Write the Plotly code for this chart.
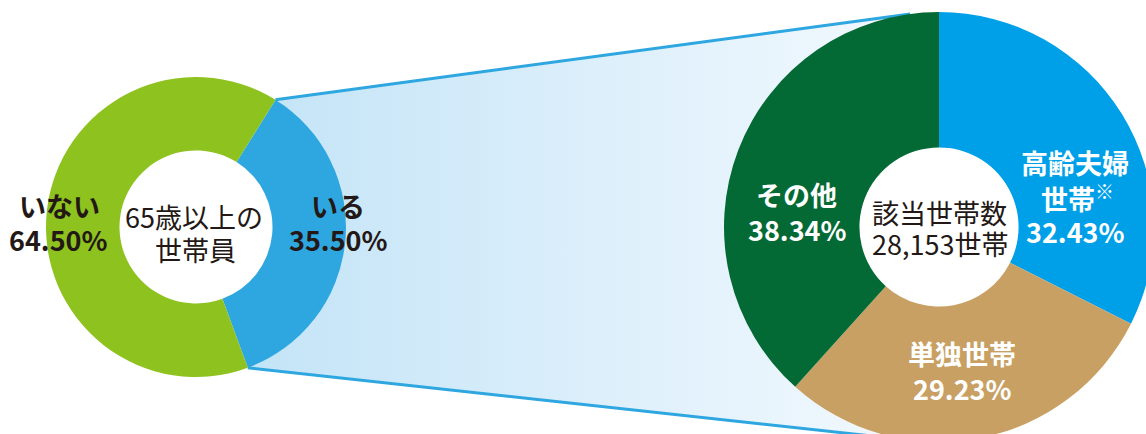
import numpy as np
import plotly.graph_objects as go

VW, VH = 1146, 434          # visible window
W, H = 1156, 444            # figure a bit larger so the right pie can be cropped like the reference
OFF = 0

# ---- data ----
left_labels = ["いる", "いない"]
left_values = [35.50, 64.50]
left_colors = ["#2EA7E0", "#8DC21F"]
left_center_text = ["65歳以上の", "世帯員"]

right_labels = ["高齢夫婦世帯", "単独世帯", "その他"]
right_values = [32.43, 29.23, 38.34]
right_colors = ["#00A0E9", "#C8A063", "#046A35"]
right_center_text = ["該当世帯数", "28,153世帯"]

# ---- geometry (figure pixels, y downward) ----
L_CX, L_CY, L_R = 196 - OFF, 227 - OFF, 150
L_HOLE = 0.51
L_ROT = 32
R_CX, R_CY, R_R = 939 - OFF, 227 - OFF, 215
R_HOLE = 0.37
R_ROT = 0

FONT = "Noto Sans CJK JP"
DARK = "#231815"


def dom(cx, cy, r):
    return dict(x=[max(0, (cx - r) / W), min(1, (cx + r) / W)],
                y=[max(0, (H - cy - r) / H), min(1, (H - cy + r) / H)])


fig = go.Figure()

# connector (zoom band) computed from the "いる" slice angles
a0 = L_ROT
a1 = L_ROT + 360 * left_values[0] / sum(left_values)
th0, th1 = np.radians(a0 - 90), np.radians(a1 - 90)
P1 = np.array([L_CX + L_R * np.cos(th0), L_CY + L_R * np.sin(th0)])
P2 = np.array([L_CX + L_R * np.cos(th1), L_CY + L_R * np.sin(th1)])
C = np.array([R_CX, R_CY])


def tangent(P, upper):
    v = P - C
    d = np.hypot(*v)
    phi = np.arctan2(v[1], v[0])
    beta = np.arccos(R_R / d)
    cands = [phi + beta, phi - beta]
    pts = [(t, C + R_R * np.array([np.cos(t), np.sin(t)])) for t in cands]
    pts.sort(key=lambda p: p[1][1])
    return pts[0] if upper else pts[1]


tT, T1 = tangent(P1, True)
tB, T2 = tangent(P2, False)
tT = np.mod(tT, 2 * np.pi)
tB = np.mod(tB, 2 * np.pi)
arcR = np.linspace(tT, tB, 80)
arcL = np.linspace(th1, th0, 80)
xs = [P1[0], T1[0]] + list(R_CX + R_R * np.cos(arcR)) + [T2[0], P2[0]] + list(L_CX + L_R * np.cos(arcL))
ys = [P1[1], T1[1]] + list(R_CY + R_R * np.sin(arcR)) + [T2[1], P2[1]] + list(L_CY + L_R * np.sin(arcL))

fig.add_trace(go.Scatter(
    x=xs, y=ys, mode="lines", fill="toself", line=dict(width=0),
    fillgradient=dict(type="horizontal", colorscale=[[0, "#C3E4F7"], [1, "#F3F9FE"]]),
    hoverinfo="skip", showlegend=False))
fig.add_trace(go.Scatter(
    x=[P1[0], T1[0], None, P2[0], T2[0]], y=[P1[1], T1[1], None, P2[1], T2[1]],
    mode="lines", line=dict(color="#2EA7E0", width=3), hoverinfo="skip", showlegend=False))

fig.add_trace(go.Pie(
    labels=left_labels, values=left_values, hole=L_HOLE, sort=False, direction="clockwise",
    rotation=L_ROT, marker=dict(colors=left_colors, line=dict(width=0)), textinfo="none",
    domain=dom(L_CX, L_CY, L_R), showlegend=False))
fig.add_trace(go.Pie(
    labels=right_labels, values=right_values, hole=R_HOLE, sort=False, direction="clockwise",
    rotation=R_ROT, marker=dict(colors=right_colors, line=dict(width=0)), textinfo="none",
    domain=dom(R_CX, R_CY, R_R), showlegend=False))

anns = []


def txt(sx, sy, s, size=27, color=DARK, bold=True):
    anns.append(dict(x=sx - OFF, y=sy - OFF, xref="x", yref="y", text=(f"<b>{s}</b>" if bold else s),
                     showarrow=False, xanchor="center", yanchor="middle",
                     font=dict(family=FONT, size=size, color=color)))


# left donut labels
txt(59, 205, left_labels[1])
txt(58, 239, f"{left_values[1]:.2f}%")
txt(338, 205, left_labels[0])
txt(338, 239, f"{left_values[0]:.2f}%")
txt(194, 216, left_center_text[0], size=27, bold=False)
txt(195, 249, left_center_text[1], size=27, bold=False)

# right pie labels
txt(1075, 162, right_labels[0][:4], color="white")
txt(1077, 197, right_labels[0][4:] + "<sup>※</sup>", color="white")
txt(1075, 231, f"{right_values[0]:.2f}%", color="white")
txt(962, 353, right_labels[1], color="white")
txt(962, 388, f"{right_values[1]:.2f}%", color="white")
txt(796, 194, right_labels[2], color="white")
txt(797, 229, f"{right_values[2]:.2f}%", color="white")
txt(939, 212, right_center_text[0], size=27, bold=False)
txt(940, 243, right_center_text[1], size=27, bold=False)

fig.update_layout(
    width=W, height=H, margin=dict(l=0, r=0, t=0, b=0),
    paper_bgcolor="white", plot_bgcolor="white",
    xaxis=dict(range=[0, W], visible=False, fixedrange=True),
    yaxis=dict(range=[H, 0], visible=False, fixedrange=True),
    annotations=anns, font=dict(family=FONT),
)

fig.write_html(
    "out.html",
    config={"displayModeBar": False},
    post_script=("document.body.style.margin='0';"
                 "document.documentElement.style.overflow='hidden';"
                 "document.body.style.overflow='hidden';"),
)
